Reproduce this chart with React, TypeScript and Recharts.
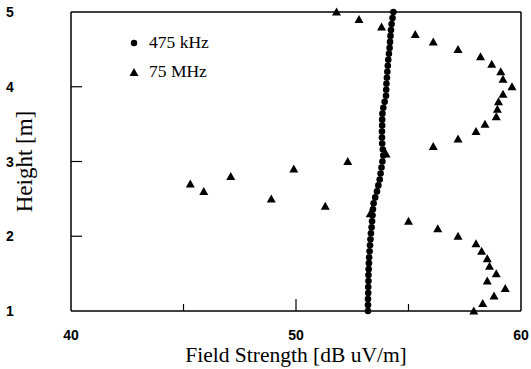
import { ScatterChart, Scatter, XAxis, YAxis, ReferenceLine, Legend, Label } from 'recharts';

// 475 kHz (circles)
const heights475 = [
  1.00, 1.08, 1.16, 1.24, 1.32, 1.40, 1.48, 1.56, 1.64, 1.72,
  1.80, 1.88, 1.96, 2.04, 2.12, 2.20, 2.28, 2.36, 2.44, 2.52,
  2.60, 2.68, 2.76, 2.84, 2.92, 3.00, 3.08, 3.16, 3.24, 3.32,
  3.40, 3.48, 3.56, 3.64, 3.72, 3.80, 3.88, 3.96, 4.04, 4.12,
  4.20, 4.28, 4.36, 4.44, 4.52, 4.60, 4.68, 4.76, 4.84, 4.92,
  5.00,
];
const field475 = [
  53.20, 53.20, 53.20, 53.21, 53.21, 53.22, 53.22, 53.23, 53.24, 53.25,
  53.27, 53.29, 53.31, 53.33, 53.36, 53.38, 53.40, 53.42, 53.45, 53.52,
  53.60, 53.66, 53.72, 53.76, 53.80, 53.84, 53.88, 53.86, 53.83, 53.82,
  53.82, 53.83, 53.83, 53.84, 53.88, 53.94, 54.00, 54.01, 54.02, 54.04,
  54.06, 54.08, 54.10, 54.13, 54.16, 54.18, 54.20, 54.22, 54.25, 54.29,
  54.33,
];

// 75 MHz (triangles)
const heights75 = [
  1.0, 1.1, 1.2, 1.3, 1.4, 1.5, 1.6, 1.7, 1.8, 1.9,
  2.0, 2.1, 2.2, 2.3, 2.4, 2.5, 2.6, 2.7, 2.8, 2.9,
  3.0, 3.1, 3.2, 3.3, 3.4, 3.5, 3.6, 3.7, 3.8, 3.9,
  4.0, 4.1, 4.2, 4.3, 4.4, 4.5, 4.6, 4.7, 4.8, 4.9,
  5.0,
];
const field75 = [
  57.9, 58.3, 58.8, 59.3, 58.5, 58.9, 58.6, 58.5, 58.25, 58.0,
  57.2, 56.3, 55.0, 53.3, 51.3, 48.9, 45.9, 45.3, 47.1, 49.9,
  52.3, 54.0, 56.1, 57.2, 58.0, 58.4, 58.9, 58.95, 59.0, 59.2,
  59.6, 59.2, 59.1, 58.7, 58.2, 57.2, 56.1, 55.3, 53.8, 52.8,
  51.8,
];

const xTicks = [40, 45, 50, 55, 60];
const xLabels = [40, 50, 60];
const yTicks = [1, 2, 3, 4, 5];
const legendNames = ['475 kHz', '75 MHz'];

const data475 = heights475.map((h, i) => ({ x: field475[i], y: h }));
const data75 = heights75.map((h, i) => ({ x: field75[i], y: h }));

const serif = '"Liberation Serif", "Times New Roman", serif';
const sans = '"Liberation Sans", Arial, sans-serif';

const CircleMark = (props: any) => <circle cx={props.cx} cy={props.cy} r={3.3} fill="#000" />;

const TriangleMark = (props: any) => {
  const { cx, cy } = props;
  return <polygon points={`${cx},${cy - 4.5} ${cx - 4.5},${cy + 3.5} ${cx + 4.5},${cy + 3.5}`} fill="#000" />;
};

const XTick = (props: any) => {
  const { x, y, payload } = props;
  const v = payload.value;
  const inner = v !== 40 && v !== 60;
  return (
    <g>
      {inner && <line x1={x} x2={x} y1={y} y2={y - (v === 50 ? 12 : 7)} stroke="#000" strokeWidth={1.2} />}
      {xLabels.includes(v) && (
        <text x={x} y={y + 29} textAnchor="middle" fontFamily={sans} fontWeight="bold" fontSize={14} fill="#000">
          {v}
        </text>
      )}
    </g>
  );
};

const YTick = (props: any) => {
  const { x, y, payload } = props;
  const v = payload.value;
  return (
    <g>
      {v !== 1 && v !== 5 && <line x1={x} x2={x + 11} y1={y} y2={y} stroke="#000" strokeWidth={1.2} />}
      <text x={10} y={y + 5} textAnchor="middle" fontFamily={sans} fontWeight="bold" fontSize={14} fill="#000">
        {v}
      </text>
    </g>
  );
};

const LegendBox = () => (
  <svg width={110} height={60} style={{ display: 'block' }}>
    <circle cx={9} cy={15} r={3.2} fill="#000" />
    <text x={24} y={20} fontFamily={serif} fontSize={17.5} fill="#000">{legendNames[0]}</text>
    <polygon points="9,40 4.5,48 13.5,48" fill="#000" />
    <text x={24} y={49} fontFamily={serif} fontSize={17.5} fill="#000">{legendNames[1]}</text>
  </svg>
);

export default function App() {
  return (
    <div style={{ position: 'absolute', left: 0, top: 0, background: '#fff' }}>
      <ScatterChart width={531} height={369} margin={{ top: 12, right: 10, bottom: 0, left: 0 }}>
        <XAxis
          type="number"
          dataKey="x"
          domain={[40, 60]}
          ticks={xTicks}
          tickSize={0}
          tickMargin={0}
          tickLine={false}
          tick={<XTick />}
          height={58}
          axisLine={{ stroke: '#000', strokeWidth: 1.5 }}
        >
          <Label
            content={({ viewBox }: any) => (
              <text
                x={viewBox.x + viewBox.width / 2}
                y={viewBox.y + 51}
                textAnchor="middle"
                fontFamily={serif}
                fontSize={21.5}
                fill="#000"
              >
                Field Strength [dB uV/m]
              </text>
            )}
          />
        </XAxis>
        <YAxis
          type="number"
          dataKey="y"
          domain={[1, 5]}
          ticks={yTicks}
          tickSize={0}
          tickMargin={0}
          tickLine={false}
          tick={<YTick />}
          width={71}
          axisLine={{ stroke: '#000', strokeWidth: 1.5 }}
        >
          <Label
            content={({ viewBox }: any) => {
              const cx = viewBox.x + 24;
              const cy = viewBox.y + viewBox.height / 2;
              return (
                <text
                  x={cx}
                  y={cy}
                  transform={`rotate(-90 ${cx} ${cy})`}
                  textAnchor="middle"
                  dominantBaseline="central"
                  fontFamily={serif}
                  fontSize={23}
                  fill="#000"
                >
                  Height [m]
                </text>
              );
            }}
          />
        </YAxis>
        <ReferenceLine y={5} stroke="#000" strokeWidth={1.5} />
        <ReferenceLine x={60} stroke="#000" strokeWidth={1.5} />
        <Legend
          layout="vertical"
          align="center"
          verticalAlign="middle"
          content={<LegendBox />}
          wrapperStyle={{ position: 'absolute', left: 125, top: 28, width: 110 }}
        />
        <Scatter name={legendNames[0]} data={data475} shape={CircleMark} isAnimationActive={false} />
        <Scatter name={legendNames[1]} data={data75} shape={TriangleMark} isAnimationActive={false} />
      </ScatterChart>
    </div>
  );
}
